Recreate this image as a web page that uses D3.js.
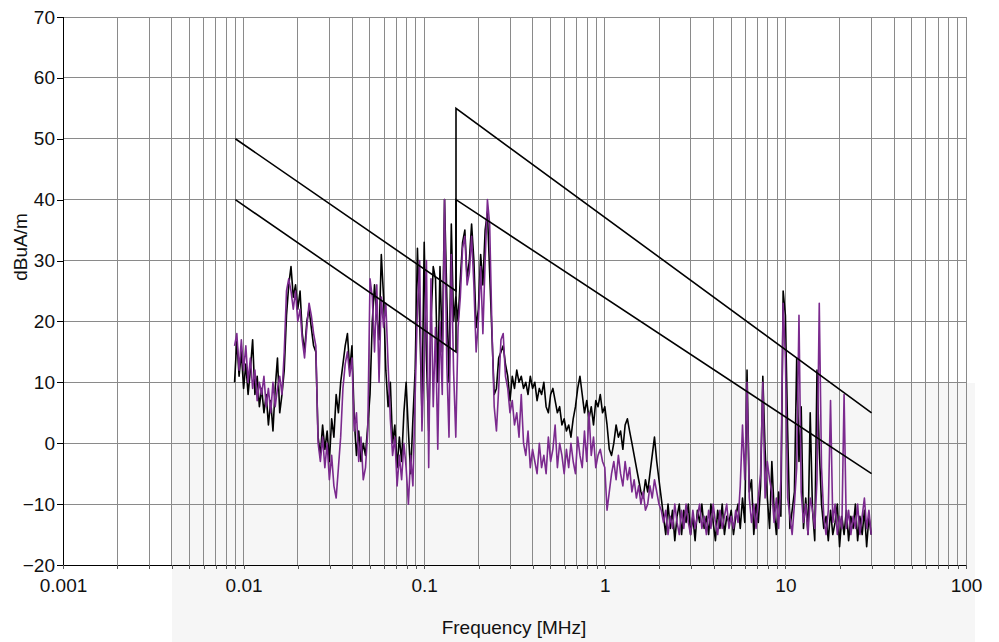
<!DOCTYPE html>
<html>
<head>
<meta charset="utf-8">
<script src="https://cdn.jsdelivr.net/npm/d3@7"></script>
<style>
  html, body { margin: 0; padding: 0; background: #fff; }
  svg { display: block; }
  text { font-family: "Liberation Sans", Arial, sans-serif; fill: #111; }
</style>
</head>
<body>
<div id="chart"></div>
<script>
// ---------- DATA ----------
// Sweep grid: 80 points per decade (mantissas), starting at 8.913 kHz, 283 points to ~30 MHz
const mantissas = [1.000,1.029,1.059,1.090,1.122,1.155,1.189,1.223,1.259,1.296,
  1.334,1.372,1.413,1.454,1.496,1.540,1.585,1.631,1.679,1.728,
  1.778,1.830,1.884,1.939,1.995,2.054,2.113,2.175,2.239,2.304,
  2.371,2.441,2.512,2.585,2.661,2.738,2.818,2.901,2.985,3.073,
  3.162,3.255,3.350,3.447,3.548,3.652,3.758,3.868,3.981,4.097,
  4.217,4.340,4.467,4.597,4.732,4.870,5.012,5.158,5.309,5.464,
  5.623,5.788,5.957,6.131,6.310,6.494,6.683,6.879,7.079,7.286,
  7.499,7.718,7.943,8.175,8.414,8.660,8.913,9.173,9.441,9.716];
const sweepStartIndex = 76;     // mantissa index of first point in decade 1e-3 MHz
const sweepStartDecade = -3;

// Measured field strength, dBuA/m (black trace)
const traceBlack = [
  10,17,11,15,9,13,8,12,17,8,
  11,6,9,5,8,3,7,2,9,14,
  5,8,12,21,26,29,24,26,22,25,
  18,15,20,22,19,16,15,1,-2,3,
  -1,2,-3,4,1,8,5,10,13,16,
  18,12,16,4,-2,2,-3,0,-2,3,
  8,20,26,21,17,31,24,12,6,10,
  0,3,-4,1,-3,5,10,2,-5,4,
  12,32,20,5,33,14,2,20,29,27,
  10,29,15,40,24,10,36,20,24,20,
  27,33,35,27,30,36,30,19,22,31,
  26,35,38,28,18,8,9,14,15,16,
  13,11,7,11,9,12,10,11,9,10,
  8,11,9,10,7,9,8,10,6,5,
  8,9,7,5,6,3,4,2,3,1,
  4,6,9,11,8,5,7,4,6,3,
  7,6,8,5,6,3,-1,-2,0,3,
  1,2,-1,3,4,2,0,-2,-4,-6,
  -8,-9,-6,-8,-5,-2,1,-3,-6,-9,
  -12,-15,-10,-14,-11,-16,-12,-10,-15,-11,
  -13,-10,-15,-12,-16,-11,-13,-10,-14,-12,
  -15,-10,-13,-16,-11,-14,-10,-15,-12,-13,
  -11,-15,-12,-10,-14,-9,-13,12,-8,-6,
  -15,-10,-13,-7,11,-1,-9,-14,-3,-11,
  -15,-8,-12,25,21,2,-14,-11,-8,14,
  -3,6,-14,-9,-15,5,-11,-16,12,-1,
  -10,-14,-12,-16,-11,-15,-13,-10,-17,-12,
  -15,-11,-16,-12,-14,-10,-16,-12,-15,-11,
  -17,-12,-15];

// Measured field strength, dBuA/m (purple trace)
const tracePurple = [
  16,18,12,17,12,16,10,14,9,12,
  7,10,8,11,6,9,5,10,6,9,
  11,8,15,25,27,25,22,25,20,22,
  17,14,19,23,21,18,16,0,-3,1,
  -4,0,-6,-2,-7,-9,-4,1,9,13,
  15,11,14,2,5,-3,1,-6,-4,2,
  27,24,15,26,10,24,19,23,13,4,
  -2,1,-7,-2,-6,0,-4,-10,-2,-7,
  8,22,30,2,14,30,-4,27,6,19,
  -1,20,8,40,13,1,31,12,1,19,
  24,32,34,26,28,34,26,15,20,29,
  18,30,40,36,19,6,2,9,17,18,
  11,9,5,7,3,5,1,8,0,-2,
  2,-4,-1,-3,-5,0,-4,-2,-5,1,
  -3,-1,3,-4,0,-2,-5,-1,-4,0,
  -3,-5,1,-2,-4,2,-3,5,-2,1,
  -4,-2,-1,-3,-4,-11,-8,-5,-3,-6,
  -2,-5,-7,-3,-6,-4,-8,-6,-9,-7,
  -10,-8,-11,-10,-7,-9,-6,-8,-10,-11,
  -13,-11,-15,-12,-14,-10,-13,-15,-11,-14,
  -10,-13,-15,-11,-14,-12,-10,-14,-12,-15,
  -11,-14,-10,-13,-15,-11,-14,-12,-10,-14,
  -12,-14,-11,-13,-7,3,-6,10,-9,-13,
  -10,-14,-9,-5,10,-9,-3,-6,-8,-13,
  -9,-14,-6,23,14,-9,-12,-15,-10,-4,
  21,-8,-13,-10,-15,-9,-11,-14,-6,23,
  -4,-12,-15,-11,7,-13,-10,-15,-12,-14,
  8,-14,-11,-15,-12,-14,-10,-15,-12,-9,
  -14,-11,-15];

// Limit lines: [frequency MHz, dBuA/m]
const limitUpper = [[0.009,50],[0.15,25],[0.15,55],[30,5]];
const limitLower = [[0.009,40],[0.15,15],[0.15,40],[30,-5]];

const xTickValues = [0.001,0.01,0.1,1,10,100];
const xTickLabels = ["0.001","0.01","0.1","1","10","100"];
const yTickValues = [-20,-10,0,10,20,30,40,50,60,70];
const xTitle = "Frequency [MHz]";
const yTitle = "dBuA/m";

// ---------- CHART ----------
const W = 999, H = 642;
const margin = {left: 63, right: 33, top: 17, bottom: 77};
const FS = "19px";

const svg = d3.select("#chart").append("svg").attr("width", W).attr("height", H);

const x = d3.scaleLog().domain([0.001, 100]).range([margin.left, W - margin.right]);
const y = d3.scaleLinear().domain([-20, 70]).range([H - margin.bottom, margin.top]);

const freqs = traceBlack.map((_, i) => {
  const g = sweepStartIndex + i;
  return mantissas[g % 80] * Math.pow(10, sweepStartDecade + Math.floor(g / 80));
});

// faint background watermark block
svg.append("rect")
  .attr("x", 172).attr("y", 383).attr("width", 803).attr("height", H - 383)
  .attr("fill", "#f6f6f6");

// grid
const minorVals = [];
for (let d = -3; d < 2; d++) for (let m = 1; m <= 9; m++) minorVals.push(m * Math.pow(10, d));
minorVals.push(100);

const grid = svg.append("g");
grid.selectAll("line.v").data(minorVals).join("line")
  .attr("x1", d => x(d)).attr("x2", d => x(d))
  .attr("y1", y(70)).attr("y2", y(-20))
  .attr("stroke", "#8a8a8a").attr("stroke-width", 1).attr("shape-rendering", "crispEdges");
grid.selectAll("line.h").data(yTickValues).join("line")
  .attr("x1", x(0.001)).attr("x2", x(100))
  .attr("y1", d => y(d)).attr("y2", d => y(d))
  .attr("stroke", "#8a8a8a").attr("stroke-width", 1).attr("shape-rendering", "crispEdges");

// axes
const yAxis = d3.axisLeft(y).tickValues(yTickValues).tickSize(6).tickPadding(2)
  .tickFormat(d => d < 0 ? "\u2212" + Math.abs(d) : d);
const gy = svg.append("g").attr("transform", `translate(${margin.left},0)`).call(yAxis);
gy.selectAll("text").style("font-size", FS);
gy.select(".domain").attr("stroke", "#000").attr("shape-rendering", "crispEdges");
gy.selectAll(".tick line").attr("stroke", "#000").attr("shape-rendering", "crispEdges");

const xAxis = d3.axisBottom(x).tickValues(minorVals).tickSize(4).tickPadding(10)
  .tickFormat(d => { const k = xTickValues.findIndex(v => Math.abs(v - d) / v < 1e-6); return k >= 0 ? xTickLabels[k] : ""; });
const gx = svg.append("g").attr("transform", `translate(0,${y(-20)})`).call(xAxis);
gx.selectAll("text").style("font-size", FS);
gx.select(".domain").attr("stroke", "#000").attr("shape-rendering", "crispEdges");
gx.selectAll(".tick line").attr("stroke", "#555").attr("shape-rendering", "crispEdges");

// traces
const line = d3.line().x(d => x(d[0])).y(d => y(d[1]));
svg.append("path").datum(freqs.map((f, i) => [f, traceBlack[i]]))
  .attr("d", line).attr("fill", "none").attr("stroke", "#000").attr("stroke-width", 1.6)
  .attr("stroke-linejoin", "round");
svg.append("path").datum(freqs.map((f, i) => [f, tracePurple[i]]))
  .attr("d", line).attr("fill", "none").attr("stroke", "#7b2a8e").attr("stroke-width", 1.6)
  .attr("stroke-linejoin", "round");

// limits
[limitUpper, limitLower].forEach(L => {
  svg.append("path").datum(L).attr("d", line)
    .attr("fill", "none").attr("stroke", "#000").attr("stroke-width", 1.6);
});

// titles
svg.append("text").attr("x", 514).attr("y", 634).attr("text-anchor", "middle")
  .style("font-size", FS).text(xTitle);
svg.append("text").attr("transform", `translate(27,247) rotate(-90)`)
  .attr("text-anchor", "middle").style("font-size", FS).text(yTitle);
</script>
</body>
</html>
